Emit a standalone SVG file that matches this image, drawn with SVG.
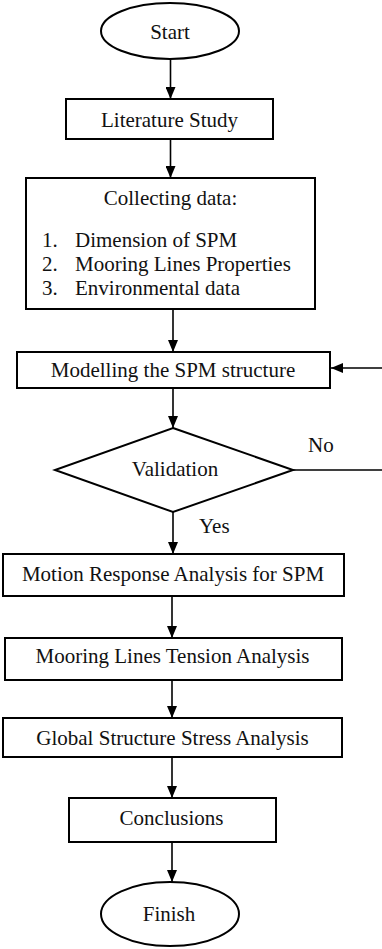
<svg xmlns="http://www.w3.org/2000/svg" width="382" height="949" viewBox="0 0 382 949">
<style>
.shape{fill:#fff;stroke:#000;stroke-width:2}
.conn{fill:none;stroke:#000;stroke-width:1.6}
.c{text-anchor:middle}
</style>
<defs>
<marker id="arr" viewBox="0 0 12 10" refX="12" refY="5" markerWidth="12" markerHeight="10" markerUnits="userSpaceOnUse" orient="auto">
<path d="M0,0 L12,5 L0,10 z" fill="#000"/>
</marker>
</defs>
<rect width="382" height="949" fill="#fff"/>
<g font-family="'Liberation Serif', 'Times New Roman', serif" font-size="21" fill="#111">
<g id="connectors">
<line class="conn" x1="170.5" y1="59" x2="170.5" y2="99" marker-end="url(#arr)"/>
<line class="conn" x1="170.5" y1="139" x2="170.5" y2="178" marker-end="url(#arr)"/>
<line class="conn" x1="173" y1="309" x2="173" y2="352" marker-end="url(#arr)"/>
<line class="conn" x1="173" y1="388" x2="173" y2="428" marker-end="url(#arr)"/>
<polyline class="conn" points="293,470 386,470 386,368 331,368" marker-end="url(#arr)"/>
<line class="conn" x1="173" y1="512" x2="173" y2="554" marker-end="url(#arr)"/>
<line class="conn" x1="172" y1="596" x2="172" y2="638" marker-end="url(#arr)"/>
<line class="conn" x1="172" y1="680" x2="172" y2="718" marker-end="url(#arr)"/>
<line class="conn" x1="172" y1="757" x2="172" y2="798" marker-end="url(#arr)"/>
<line class="conn" x1="172" y1="842" x2="172" y2="882" marker-end="url(#arr)"/>
<text x="308" y="452">No</text>
<text x="199" y="533">Yes</text>
</g>
<g id="start">
<ellipse class="shape" cx="170" cy="31" rx="69" ry="28"/>
<text class="c" x="170" y="39">Start</text>
</g>
<g id="literature">
<rect class="shape" x="66" y="99" width="207" height="40"/>
<text class="c" x="169.5" y="127">Literature Study</text>
</g>
<g id="collecting">
<rect class="shape" x="26" y="178" width="289" height="131"/>
<text class="c" x="170.5" y="205">Collecting data:</text>
<text x="42" y="247">1.</text><text x="75" y="247">Dimension of SPM</text>
<text x="42" y="271">2.</text><text x="75" y="271">Mooring Lines Properties</text>
<text x="42" y="295">3.</text><text x="75" y="295">Environmental data</text>
</g>
<g id="modelling">
<rect class="shape" x="17" y="352" width="313" height="36"/>
<text class="c" x="173" y="377">Modelling the SPM structure</text>
</g>
<g id="validation">
<polygon class="shape" points="173,428 293,470 173,512 55,470"/>
<text class="c" x="175" y="476">Validation</text>
</g>
<g id="motion">
<rect class="shape" x="3" y="554" width="341" height="42"/>
<text class="c" x="173" y="581">Motion Response Analysis for SPM</text>
</g>
<g id="mooring">
<rect class="shape" x="5" y="638" width="337" height="42"/>
<text class="c" x="172.5" y="663">Mooring Lines Tension Analysis</text>
</g>
<g id="global">
<rect class="shape" x="3" y="718" width="339" height="39"/>
<text class="c" x="172.5" y="745">Global Structure Stress Analysis</text>
</g>
<g id="conclusions">
<rect class="shape" x="69" y="798" width="207" height="44"/>
<text class="c" x="171.5" y="825">Conclusions</text>
</g>
<g id="finish">
<ellipse class="shape" cx="170" cy="914" rx="69" ry="32"/>
<text class="c" x="169" y="921">Finish</text>
</g>
</g>
</svg>
